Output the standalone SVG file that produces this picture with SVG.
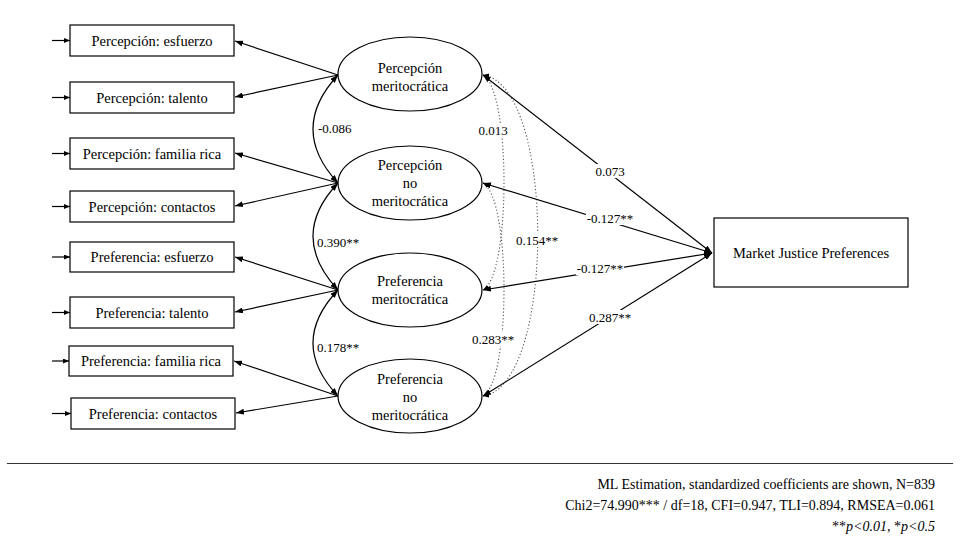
<svg xmlns="http://www.w3.org/2000/svg" width="960" height="540" viewBox="0 0 960 540">
<defs>
<marker id="ah" markerUnits="userSpaceOnUse" markerWidth="8" markerHeight="6" refX="8" refY="3" orient="auto-start-reverse">
<path d="M0,0 L8,3 L0,6 z" fill="#000"/>
</marker>
<marker id="ahs" markerUnits="userSpaceOnUse" markerWidth="6" markerHeight="5" refX="6" refY="2.5" orient="auto-start-reverse">
<path d="M0,0 L6,2.5 L0,5 z" fill="#000"/>
</marker>
<style>
.box{fill:#fff;stroke:#000;stroke-width:1.2}
.ell{fill:#fff;stroke:#000;stroke-width:1.2}
.t{font-family:"Liberation Serif","Times New Roman",serif;font-size:14.5px;fill:#000;text-anchor:middle}
.lab{font-family:"Liberation Serif","Times New Roman",serif;font-size:13px;fill:#000}
.ln{stroke:#000;stroke-width:1.2;fill:none}
.dot{stroke:#555;stroke-width:1.1;fill:none;stroke-dasharray:1.2 2.2}
.bg{fill:#fff}
.foot{font-family:"Liberation Serif","Times New Roman",serif;font-size:14px;fill:#000;text-anchor:end}
</style>
</defs>
<rect width="960" height="540" fill="#fff"/>

<g id="connectors">
<!-- error arrows -->
<line class="ln" x1="52" y1="40.5" x2="70" y2="40.5" marker-end="url(#ahs)"/>
<line class="ln" x1="52" y1="97.5" x2="70" y2="97.5" marker-end="url(#ahs)"/>
<line class="ln" x1="52" y1="153.5" x2="70" y2="153.5" marker-end="url(#ahs)"/>
<line class="ln" x1="52" y1="206.5" x2="70" y2="206.5" marker-end="url(#ahs)"/>
<line class="ln" x1="52" y1="257" x2="70" y2="257" marker-end="url(#ahs)"/>
<line class="ln" x1="52" y1="312.5" x2="70" y2="312.5" marker-end="url(#ahs)"/>
<line class="ln" x1="52" y1="361" x2="69" y2="361" marker-end="url(#ahs)"/>
<line class="ln" x1="52" y1="413.5" x2="71" y2="413.5" marker-end="url(#ahs)"/>
<!-- loadings -->
<line class="ln" x1="338" y1="75" x2="235" y2="41" marker-end="url(#ah)"/>
<line class="ln" x1="338" y1="75" x2="235" y2="97" marker-end="url(#ah)"/>
<line class="ln" x1="338" y1="183" x2="235" y2="153" marker-end="url(#ah)"/>
<line class="ln" x1="338" y1="183" x2="235" y2="206" marker-end="url(#ah)"/>
<line class="ln" x1="338" y1="290" x2="235" y2="257" marker-end="url(#ah)"/>
<line class="ln" x1="338" y1="290" x2="235" y2="312" marker-end="url(#ah)"/>
<line class="ln" x1="338" y1="396" x2="234" y2="361" marker-end="url(#ah)"/>
<line class="ln" x1="338" y1="396" x2="236" y2="413" marker-end="url(#ah)"/>
<!-- left covariances -->
<path class="ln" d="M338,75 Q288,129 338,183" marker-start="url(#ah)" marker-end="url(#ah)"/>
<path class="ln" d="M338,183 Q288,236 338,290" marker-start="url(#ah)" marker-end="url(#ah)"/>
<path class="ln" d="M338,290 Q288,343 338,396" marker-start="url(#ah)" marker-end="url(#ah)"/>
<!-- right dotted covariances -->
<path class="dot" d="M483,75 C511,90 511,275 483,290" marker-start="url(#ahs)" marker-end="url(#ahs)"/>
<path class="dot" d="M483,183 C511,198 511,381 483,396" marker-start="url(#ahs)" marker-end="url(#ahs)"/>
<path class="dot" d="M483,75 C556,85 556,386 483,396" marker-start="url(#ahs)" marker-end="url(#ahs)"/>
<!-- regressions -->
<line class="ln" x1="712" y1="253" x2="483" y2="75" marker-start="url(#ah)" marker-end="url(#ah)"/>
<line class="ln" x1="712" y1="253" x2="483" y2="183" marker-start="url(#ah)" marker-end="url(#ah)"/>
<line class="ln" x1="712" y1="253" x2="483" y2="290" marker-start="url(#ah)" marker-end="url(#ah)"/>
<line class="ln" x1="712" y1="253" x2="483" y2="396" marker-start="url(#ah)" marker-end="url(#ah)"/>
<!-- labels -->
<text class="lab" x="318" y="133">-0.086</text>
<text class="lab" x="317" y="247">0.390**</text>
<text class="lab" x="317" y="352">0.178**</text>
<rect class="bg" x="479" y="123" width="29" height="14"/>
<text class="lab" x="493" y="135" text-anchor="middle">0.013</text>
<rect class="bg" x="516" y="233" width="43" height="14"/>
<text class="lab" x="537" y="245" text-anchor="middle">0.154**</text>
<rect class="bg" x="472" y="332" width="43" height="14"/>
<text class="lab" x="493" y="344" text-anchor="middle">0.283**</text>
<rect class="bg" x="594" y="164" width="32" height="14"/>
<text class="lab" x="610" y="176" text-anchor="middle">0.073</text>
<rect class="bg" x="586" y="211" width="48" height="14"/>
<text class="lab" x="610" y="223" text-anchor="middle">-0.127**</text>
<rect class="bg" x="576" y="261" width="48" height="14"/>
<text class="lab" x="600" y="273" text-anchor="middle">-0.127**</text>
<rect class="bg" x="588" y="310" width="44" height="14"/>
<text class="lab" x="610" y="322" text-anchor="middle">0.287**</text>
</g>

<g id="box1"><rect class="box" x="70" y="25" width="164" height="31"/><text class="t" x="152" y="45.5">Percepción: esfuerzo</text></g>
<g id="box2"><rect class="box" x="70" y="82" width="164" height="31"/><text class="t" x="152" y="102.5">Percepción: talento</text></g>
<g id="box3"><rect class="box" x="70" y="138" width="164" height="31"/><text class="t" x="152" y="158.5">Percepción: familia rica</text></g>
<g id="box4"><rect class="box" x="70" y="191" width="164" height="31"/><text class="t" x="152" y="211.5">Percepción: contactos</text></g>
<g id="box5"><rect class="box" x="70" y="242" width="164" height="30"/><text class="t" x="152" y="262">Preferencia: esfuerzo</text></g>
<g id="box6"><rect class="box" x="70" y="297" width="164" height="31"/><text class="t" x="152" y="317.5">Preferencia: talento</text></g>
<g id="box7"><rect class="box" x="69" y="346" width="164" height="30"/><text class="t" x="151" y="366">Preferencia: familia rica</text></g>
<g id="box8"><rect class="box" x="71" y="398" width="164" height="31"/><text class="t" x="153" y="418.5">Preferencia: contactos</text></g>

<g id="lat1"><ellipse class="ell" cx="410" cy="74" rx="72" ry="37"/><text class="t" x="410" y="73">Percepción</text><text class="t" x="410" y="91">meritocrática</text></g>
<g id="lat2"><ellipse class="ell" cx="410" cy="183" rx="72" ry="37"/><text class="t" x="410" y="170">Percepción</text><text class="t" x="410" y="188">no</text><text class="t" x="410" y="206">meritocrática</text></g>
<g id="lat3"><ellipse class="ell" cx="410" cy="290" rx="72" ry="37"/><text class="t" x="410" y="286">Preferencia</text><text class="t" x="410" y="304">meritocrática</text></g>
<g id="lat4"><ellipse class="ell" cx="410" cy="396" rx="72" ry="37"/><text class="t" x="410" y="384">Preferencia</text><text class="t" x="410" y="402">no</text><text class="t" x="410" y="420">meritocrática</text></g>

<g id="mjp"><rect class="box" x="714" y="218" width="194" height="69"/><text class="t" x="811" y="258">Market Justice Preferences</text></g>

<g id="footer">
<line x1="7" y1="463.5" x2="953" y2="463.5" stroke="#333" stroke-width="1.2"/>
<text class="foot" x="935" y="489">ML Estimation, standardized coefficients are shown, N=839</text>
<text class="foot" x="935" y="510">Chi2=74.990*** / df=18, CFI=0.947, TLI=0.894, RMSEA=0.061</text>
<text class="foot" x="935" y="531">**<tspan font-style="italic">p&lt;0.01, </tspan>*<tspan font-style="italic">p&lt;0.5</tspan></text>
</g>
</svg>
